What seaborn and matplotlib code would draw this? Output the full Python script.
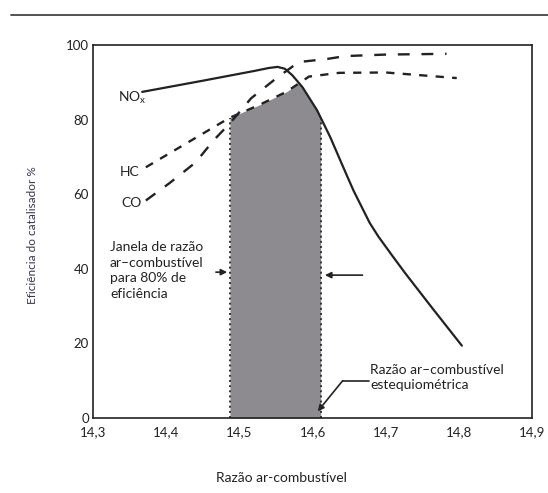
import numpy as np
import seaborn as sns
import matplotlib.pyplot as plt
from matplotlib.lines import Line2D
from matplotlib.ticker import MultipleLocator

# curves (air-fuel ratio vs catalyst efficiency %)
nox_x = [14.367, 14.45, 14.52, 14.54, 14.552, 14.562, 14.572, 14.586, 14.606, 14.624,
         14.645, 14.656, 14.667, 14.678, 14.69, 14.71, 14.727, 14.763, 14.804]
nox_y = [87.4, 90.4, 93.0, 93.8, 94.1, 93.6, 91.9, 88.7, 82.5, 75.3,
         65.8, 60.9, 56.6, 52.3, 48.6, 43.2, 38.7, 29.6, 19.4]

hc_x = [14.372, 14.486, 14.527, 14.564, 14.595, 14.636, 14.70, 14.797]
hc_y = [67.2, 80.4, 83.9, 87.4, 91.5, 92.5, 92.6, 91.1]

co_x = [14.372, 14.404, 14.44, 14.465, 14.487, 14.516, 14.55, 14.581, 14.619, 14.645, 14.70, 14.783]
co_y = [58.3, 62.9, 68.5, 74.5, 79.0, 85.7, 91.0, 95.4, 96.2, 97.0, 97.4, 97.6]

window_x = [14.487, 14.611]  # 80 % efficiency window

x_ticks = [14.3, 14.4, 14.5, 14.6, 14.7, 14.8, 14.9]
x_labels = ["14,3", "14,4", "14,5", "14,6", "14,7", "14,8", "14,9"]
y_ticks = [0, 20, 40, 60, 80, 100]

sns.set_style("white")
plt.rcParams['font.family'] = ['Lato', 'DejaVu Sans']
ink = '#222222'

fig = plt.figure(figsize=(5.48, 4.93), dpi=100)
ax = fig.add_axes([0.170, 0.152, 0.801, 0.757])

# shaded window: bounded above by the lower of HC and NOx
wx = np.linspace(window_x[0], window_x[1], 60)
top = np.minimum(np.interp(wx, hc_x, hc_y), np.interp(wx, nox_x, nox_y))
ax.fill_between(wx, 0, top, color='#8d8b90', lw=0)
for xe in window_x:
    ax.plot([xe, xe], [0, np.interp(xe, wx, top)], color='#333333', lw=1.4, ls=':')

sns.lineplot(x=nox_x, y=nox_y, ax=ax, color=ink, lw=1.6, sort=False, estimator=None)
sns.lineplot(x=hc_x, y=hc_y, ax=ax, color=ink, lw=1.7, sort=False, estimator=None)
ax.lines[-1].set_linestyle((0, (3.5, 3.5)))
sns.lineplot(x=co_x, y=co_y, ax=ax, color=ink, lw=1.7, sort=False, estimator=None)
ax.lines[-1].set_linestyle((0, (5, 5)))

ax.set_xlim(14.3, 14.9)
ax.set_ylim(0, 100)
ax.set_xticks(x_ticks)
ax.set_xticklabels(x_labels)
ax.set_yticks(y_ticks)
ax.yaxis.set_minor_locator(MultipleLocator(10))
ax.tick_params(axis='both', which='both', direction='in', length=9, width=1.1,
               color=ink, labelsize=9.5, labelcolor=ink)
ax.tick_params(axis='y', pad=3)
ax.tick_params(axis='x', pad=6)
for s in ax.spines.values():
    s.set_color(ink)
    s.set_linewidth(1.2)

ax.set_xlabel("Razão ar-combustível", fontsize=10, color=ink)
ax.xaxis.set_label_coords(0.43, -0.145)
ax.set_ylabel("Eficiência do catalisador %", fontsize=8.5, color='#3a3450')
ax.yaxis.set_label_coords(-0.125, 0.49)

ax.text(14.334, 85.8, r"NO$_\mathregular{x}$", fontsize=10, color=ink, va='center')
ax.text(14.337, 66.0, "HC", fontsize=10, color=ink, va='center')
ax.text(14.339, 57.6, "CO", fontsize=10, color=ink, va='center')

ax.text(14.323, 39.5, "Janela de razão\nar–combustível\npara 80% de\neficiência",
        fontsize=10, color=ink, va='center', ha='left', linespacing=1.35)
ax.annotate("", xy=(14.487, 39.1), xytext=(14.464, 39.1),
            arrowprops=dict(arrowstyle='-|>', color=ink, lw=1.2, mutation_scale=9))
ax.annotate("", xy=(14.613, 38.3), xytext=(14.672, 38.3),
            arrowprops=dict(arrowstyle='-|>', color=ink, lw=1.2, mutation_scale=9))

ax.text(14.679, 11.0, "Razão ar–combustível\nestequiométrica", fontsize=10, color=ink,
        va='center', ha='left', linespacing=1.3)
ax.plot([14.677, 14.641], [10.0, 10.0], color=ink, lw=1.2)
ax.annotate("", xy=(14.607, 1.8), xytext=(14.641, 10.0),
            arrowprops=dict(arrowstyle='-|>', color=ink, lw=1.2, mutation_scale=9,
                            shrinkA=0, shrinkB=0))

# page rule at the top of the scan
fig.add_artist(Line2D([0.02, 1.0], [0.970, 0.970], color='#444444', lw=1.3))

fig.savefig("out.png", dpi=100)
